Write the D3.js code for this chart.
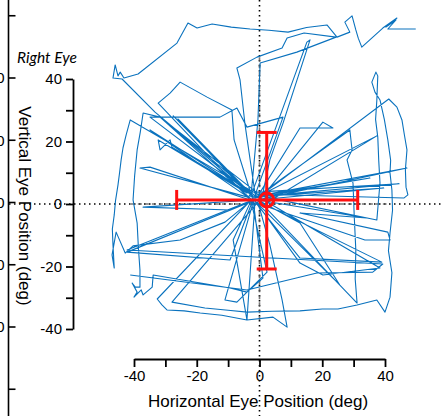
<!DOCTYPE html>
<html><head><meta charset="utf-8">
<script src="https://cdn.jsdelivr.net/npm/d3@7"></script>
<style>
body{margin:0;background:#fff;}
svg{display:block;}
text{font-family:"Liberation Sans",Arial,sans-serif;fill:#000;}
</style></head>
<body><svg id="c" width="442" height="416"></svg>
<script>
// ---- data (degrees) ----
const axisTicks = [-40,-30,-20,-10,0,10,20,30,40];
const sideTicks = [60,40,20,0,-20,-40,-60];
const sideLabels = ["","40","20","0","-20","-40",""];
// eye position trace, [horizontal, vertical] in deg
const eyePath = [
 [49.8,56.0],[40.9,56.0],[43.5,58.9],[40.3,56.6],[43.8,59.5],[39.3,56.3],[32.6,50.2],[31.5,53],[30.7,55.7],[29.5,60.2],
 [27.2,58.2],[28.8,55.0],[24.7,53.4],[21.5,57.3],[15,56.5],[9.1,55.0],[3,55.6],[-3.0,56.0],[-9,56.6],[-15.1,57.6],
 [-19.9,56.3],[-22.8,57.9],[-26.3,51.5],[-38.7,41.6],[-43.2,40.3],[-44.4,42.2],[-45.1,41.0],[-46.0,44.5],[-46.7,40.3],[-43.8,40.0],
 [-33.3,29.4],[-18.9,17.3],[-2.4,3.5],[-1.1,2.2],[-3.3,2.6],[-2.0,4.5],[-0.5,3.0],
 [-41.2,26.9],[-42.5,22.1],[-43.5,18],[-44.1,14.1],[-44.6,10],[-45.1,6.1],[-45.9,1],[-46.3,-3.5],[-46.9,-8],
 [-46.7,-13.1],[-46.3,-20.5],[-47.0,-16.3],[-45.7,-9.0],[-42.8,-15.7],[-40.3,-13.4],[-25.3,-11.5],[-11.0,-5.8],[-2.4,1.3],
 [-31.7,27.8],[-37.1,29.1],[-38.0,23],[-39.0,17.3],[-39.8,9],[-40.3,1.3],[-39.0,-6.1],[-38.6,-14],[-38.1,-21.1],[-38.1,-26.6],
 [-39.6,-26.6],[-40.6,-25.3],[-39.0,-28.2],[-40.0,-29.8],[-37.7,-27.5],[-37.1,-29.1],[-34.2,-26.6],[-33.9,-22.7],[-9.4,-26.9],[-4.0,-28.2],
 [1.1,-23.7],[-2.1,1.9],
 [-32.6,-30.4],[-31.1,-32.3],[-29.5,-33.9],[-24,-34.2],[-18.9,-34.9],[-12,-35.6],[-4.0,-37.1],[4.3,-36.2],[8.8,-39.4],[7.2,-30.7],
 [3.3,-13.1],[-0.5,0.6],
 [-27.9,-31.4],[-17.4,-33.3],[-10,-34.0],[-4.0,-34.6],[4,-34.3],[12.9,-34.2],[20,-33.6],[25,-33.6],[31.1,-32.3],[37.4,-30.7],
 [40.0,-34.6],[41.6,-29.8],[42.2,-22],[41.1,-15],[41.6,-9.3],[42.4,-2],[42.2,4.5],[41.6,9.9],[41.8,14],[40.9,20.5],
 [39.8,27],[38.4,33.3],[36.8,35.8],[35.8,39.0],[37.1,42.2],[37.7,41.0],[37.4,33.3],[37.0,27],[37.7,21.4],[38.0,14],
 [38.4,6.7],[37.4,-5.1],[0.2,2.6],
 [41.2,33.6],[43.8,31.0],[45.4,26.9],[46.2,22],[47.0,17.3],[46.5,11],[46.7,5.4],[47.3,2.9],[46.0,1.9],[-1.4,3.2],
 [-4.6,25.3],[-6.2,39.7],[-7.2,43.5],[-0.8,47.0],[7.2,49.9],[8.8,53.1],[14.2,54.7],[24.4,53.4],[11.9,48.6],[0.2,45.1],
 [-0.5,26.9],[-2.7,2.6],
 [15.1,51.8],[16.1,52.5],[7.5,25.9],[3.3,14.1],[0.8,2.2],
 [20.2,26.2],[23.4,24.3],[12.9,24.3],[-0.5,2.6],
 [28.8,23.7],[29.5,17.3],[27.9,14.1],[29.8,6.7],[30.2,-4],[30.7,-14.7],[30.5,-24],[31.1,-31.7],[1.1,-0.3],
 [37.4,21.8],[-1.4,1.9],[35.2,8.3],[-0.2,2.6],[47.0,11.5],[-0.8,1.3],[39.6,5.1],[-2.4,2.2],[44.5,6.5],[-1.0,3.8],
 [-31.7,27.8],[-3.0,3.2],[-27.5,28.2],[-2.1,2.6],[-26.0,27.2],[-4.0,3.5],
 [-32.3,20.5],[-31.7,17.3],[-28.5,20.5],[-27.9,18.2],[-2.4,2.9],[-34.9,23.7],[-3.7,2.2],[-38.1,11.5],[-34.9,11.8],[-3.0,1.3],
 [-32.3,32.3],[-28.5,35.5],[-25.3,39.0],[-16.7,34.2],[-8.8,30.1],[-8.1,20.5],[-2.7,3.2],
 [-34.9,27.8],[-12.6,27.8],[-7.2,30.7],[-4.0,24.6],[7.5,27.8],[-1.4,2.9],
 [38.4,-20.5],[20.2,-22.7],[12.9,-18.9],[-1.8,1.6],[39.0,-18.6],[12.9,-17.3],[-1.1,0.3],[33.6,-11.5],[41.6,-11.5],[40.9,-9.0],
 [12.9,-2.9],[34.2,-4.5],[-0.5,1.3],[12.9,-6.1],[25.6,-25.9],[-1.8,1.3],
 [-10.4,-28.5],[-11.0,-30.7],[-7.2,-31.4],[-4.0,-28.2],[2.4,-21.8],[-2.7,1.0],[-8.4,-11.5],[-4.0,-37.1],[-1.4,1.3],
 [-42.2,-15.4],[-9.4,-17.9],[-2.1,1.3],[-37.1,-1.0],[-9.4,-1.9],[-1.4,1.6],
 [-42.2,-14.7],[39.3,-19.2],[36.1,-21.8],[18.3,-22.1],[-4.0,-27.5],[-41.2,-22.7]
];
// mean and SD of eye position
const meanX = 2.3, meanY = 1.3;
const sdX = [-26.4, 31.3];
const sdY = [-20.8, 22.9];

// ---- drawing ----
const svg = d3.select("#c");
const x = d3.scaleLinear().domain([-40,40]).range([134,385]);
const y = d3.scaleLinear().domain([-40,40]).range([329,79]);
const ys = d3.scaleLinear().domain([-40,40]).range([327,78]);
const fmt = d => String(d);

// left partial axis (neighbouring panel)
const ga = svg.append("g").attr("transform","translate(8.5,0)");
ga.append("line").attr("y1",0).attr("y2",416).attr("stroke","#000").attr("stroke-width",1.6);
sideTicks.forEach((t,i)=>{
  const yy = ys(t);
  ga.append("line").attr("x1",0).attr("x2",7).attr("y1",yy).attr("y2",yy).attr("stroke","#000").attr("stroke-width",1.6);
  if(sideLabels[i]) ga.append("text").attr("x",-4).attr("y",yy).attr("dy","0.35em")
     .attr("text-anchor","end").style("font-size","15px").text(sideLabels[i]);
});

// reference lines
svg.append("line").attr("x1",9).attr("x2",442).attr("y1",y(0)).attr("y2",y(0))
  .attr("stroke","#000").attr("stroke-width",1.6).attr("stroke-dasharray","1.5,3.5");
svg.append("line").attr("x1",x(0)).attr("x2",x(0)).attr("y1",0).attr("y2",416)
  .attr("stroke","#000").attr("stroke-width",1.6).attr("stroke-dasharray","1.5,3.5");
svg.append("line").attr("x1",x(-41)).attr("x2",x(40.5)).attr("y1",y(0)).attr("y2",y(0))
  .attr("stroke","#555").attr("stroke-width",1.6).attr("stroke-dasharray","4,3").attr("opacity",0.8);
svg.append("line").attr("x1",x(0)).attr("x2",x(0)).attr("y1",y(47)).attr("y2",y(-37.5))
  .attr("stroke","#555").attr("stroke-width",1.6).attr("stroke-dasharray","4,3").attr("opacity",0.8);

// trace
svg.append("path").datum(eyePath)
  .attr("d", d3.line().x(d=>x(d[0])).y(d=>y(d[1])))
  .attr("fill","none").attr("stroke","#0a72be").attr("stroke-width",1.1).attr("stroke-linejoin","round");

// error bars
const red = "#ff1010";
const eb = svg.append("g").attr("stroke",red).attr("stroke-width",3).attr("fill","none");
eb.append("line").attr("x1",x(sdX[0])).attr("x2",x(sdX[1])).attr("y1",y(meanY)).attr("y2",y(meanY));
eb.append("line").attr("x1",x(meanX)).attr("x2",x(meanX)).attr("y1",y(sdY[1])).attr("y2",y(sdY[0]));
sdX.forEach(v=>eb.append("line").attr("x1",x(v)).attr("x2",x(v)).attr("y1",y(meanY)-10).attr("y2",y(meanY)+10));
sdY.forEach(v=>eb.append("line").attr("y1",y(v)).attr("y2",y(v)).attr("x1",x(meanX)-10).attr("x2",x(meanX)+10));
eb.append("circle").attr("cx",x(meanX)).attr("cy",y(meanY)).attr("r",7);

// axes
const gx = svg.append("g").attr("transform","translate(0,359)")
  .call(d3.axisBottom(x).tickValues(axisTicks).tickSize(8).tickSizeOuter(0)
    .tickFormat(d => d % 20 === 0 ? fmt(d) : ""));
const gy = svg.append("g").attr("transform","translate(73,0)")
  .call(d3.axisLeft(y).tickValues(axisTicks).tickSize(7).tickSizeOuter(0)
    .tickFormat(d => d % 20 === 0 ? fmt(d) : ""));
[gx,gy].forEach(g=>{
  g.select(".domain").attr("stroke-width",1.8);
  g.selectAll(".tick line").attr("stroke-width",1.8);
  g.selectAll(".tick text").style("font-size","15px").style("font-family","'Liberation Sans',Arial,sans-serif");
});
gx.selectAll(".tick text").attr("y",11);
gy.selectAll(".tick text").attr("x",-11);

// titles
svg.append("text").attr("x",258).attr("y",407).attr("text-anchor","middle")
  .style("font-size","17px").text("Horizontal Eye Position (deg)");
svg.append("text").attr("transform","translate(25,206) rotate(90)").attr("text-anchor","middle")
  .attr("dy","0.35em").style("font-size","17px").text("Vertical Eye Position (deg)");
svg.append("text").attr("x",17).attr("y",63).style("font-family","Lato,'Open Sans',sans-serif")
  .style("font-style","italic").style("font-size","15.5px").text("Right Eye");
</script></body></html>
